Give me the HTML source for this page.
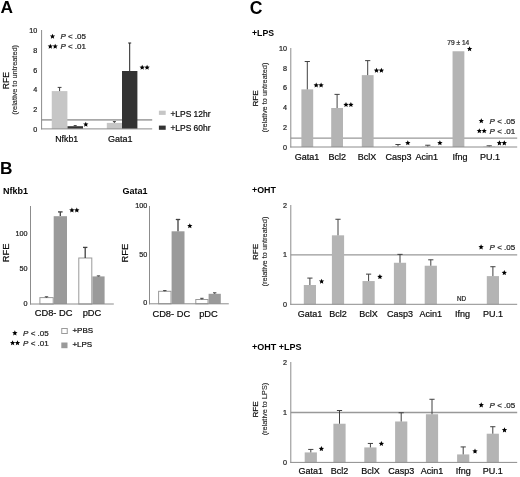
<!DOCTYPE html>
<html><head><meta charset="utf-8"><style>
html,body{margin:0;padding:0;background:#fff;}
body{width:520px;height:477px;overflow:hidden;}
svg{display:block;font-family:"Liberation Sans",sans-serif;filter:grayscale(1);}
text:not([font-weight]){stroke:#222;stroke-width:0.22px;}
text[fill="#1a1a1a"]{stroke-width:0.1px;}
</style></head><body>
<svg width="520" height="477" viewBox="0 0 520 477" shape-rendering="geometricPrecision">
<rect width="520" height="477" fill="#fff"/>
<text x="0.50" y="13.00" font-size="17.3" font-weight="bold" fill="#000">A</text>
<text x="37.20" y="131.68" font-size="7.2" text-anchor="end" fill="#222">0</text>
<text x="37.20" y="111.98" font-size="7.2" text-anchor="end" fill="#222">2</text>
<text x="37.20" y="92.28" font-size="7.2" text-anchor="end" fill="#222">4</text>
<text x="37.20" y="72.58" font-size="7.2" text-anchor="end" fill="#222">6</text>
<text x="37.20" y="52.88" font-size="7.2" text-anchor="end" fill="#222">8</text>
<text x="37.20" y="33.18" font-size="7.2" text-anchor="end" fill="#222">10</text>
<line x1="41.60" y1="119.85" x2="152.20" y2="119.85" stroke="#a8a8a8" stroke-width="1.6"/>
<rect x="51.75" y="91.10" width="15.65" height="37.80" fill="#c6c6c6"/>
<rect x="67.50" y="126.20" width="15.50" height="2.70" fill="#333333"/>
<rect x="106.80" y="122.90" width="15.20" height="6.00" fill="#c6c6c6"/>
<rect x="122.00" y="71.00" width="15.40" height="57.90" fill="#333333"/>
<line x1="59.60" y1="91.10" x2="59.60" y2="87.40" stroke="#404040" stroke-width="1"/>
<line x1="57.70" y1="87.40" x2="61.50" y2="87.40" stroke="#404040" stroke-width="1"/>
<line x1="75.20" y1="126.20" x2="75.20" y2="125.60" stroke="#404040" stroke-width="1"/>
<line x1="73.70" y1="125.60" x2="76.70" y2="125.60" stroke="#404040" stroke-width="1"/>
<line x1="114.40" y1="122.90" x2="114.40" y2="121.60" stroke="#404040" stroke-width="1"/>
<line x1="112.90" y1="121.60" x2="115.90" y2="121.60" stroke="#404040" stroke-width="1"/>
<line x1="129.70" y1="71.00" x2="129.70" y2="43.00" stroke="#222" stroke-width="1"/>
<line x1="128.20" y1="43.00" x2="131.20" y2="43.00" stroke="#222" stroke-width="1"/>
<line x1="41.60" y1="30.00" x2="41.60" y2="129.40" stroke="#8c8c8c" stroke-width="1"/>
<line x1="41.10" y1="128.90" x2="152.20" y2="128.90" stroke="#8c8c8c" stroke-width="1"/>
<polygon points="85.80,121.65 86.56,123.41 88.46,123.58 87.02,124.85 87.45,126.72 85.80,125.74 84.15,126.72 84.58,124.85 83.14,123.58 85.04,123.41" fill="#000"/>
<polygon points="142.20,64.75 142.96,66.51 144.86,66.68 143.42,67.95 143.85,69.82 142.20,68.84 140.55,69.82 140.98,67.95 139.54,66.68 141.44,66.51" fill="#000"/>
<polygon points="147.10,64.75 147.86,66.51 149.76,66.68 148.32,67.95 148.75,69.82 147.10,68.84 145.45,69.82 145.88,67.95 144.44,66.68 146.34,66.51" fill="#000"/>
<polygon points="52.50,33.65 53.26,35.41 55.16,35.58 53.72,36.85 54.15,38.72 52.50,37.74 50.85,38.72 51.28,36.85 49.84,35.58 51.74,35.41" fill="#000"/>
<text x="60.40" y="39.16" font-size="8.0" fill="#222"><tspan font-style="italic">P</tspan> &lt; .05</text>
<polygon points="50.30,43.65 51.06,45.41 52.96,45.58 51.52,46.85 51.95,48.72 50.30,47.74 48.65,48.72 49.08,46.85 47.64,45.58 49.54,45.41" fill="#000"/>
<polygon points="55.20,43.65 55.96,45.41 57.86,45.58 56.42,46.85 56.85,48.72 55.20,47.74 53.55,48.72 53.98,46.85 52.54,45.58 54.44,45.41" fill="#000"/>
<text x="60.40" y="49.16" font-size="8.0" fill="#222"><tspan font-style="italic">P</tspan> &lt; .01</text>
<rect x="158.90" y="110.70" width="6.80" height="4.20" fill="#c6c6c6"/>
<text x="170.40" y="116.53" font-size="8.45">+LPS 12hr</text>
<rect x="158.90" y="125.60" width="6.80" height="4.20" fill="#333333"/>
<text x="170.40" y="131.13" font-size="8.45">+LPS 60hr</text>
<text x="66.70" y="142.15" font-size="8.8" text-anchor="middle">Nfkb1</text>
<text x="120.20" y="142.22" font-size="9.0" text-anchor="middle">Gata1</text>
<text x="9.00" y="80.70" font-size="8.5" text-anchor="middle" transform="rotate(-90 9.00 80.70)">RFE</text>
<text x="17.40" y="79.90" font-size="7.35" text-anchor="middle" fill="#1a1a1a" transform="rotate(-90 17.40 79.90)">(relative to untreated)</text>
<text x="0.10" y="173.80" font-size="17.3" font-weight="bold" fill="#000">B</text>
<text x="3.00" y="193.82" font-size="9.0" font-weight="bold" fill="#000">Nfkb1</text>
<text x="122.60" y="193.82" font-size="9.0" font-weight="bold" fill="#000">Gata1</text>
<text x="27.60" y="305.68" font-size="7.2" text-anchor="end" fill="#222">0</text>
<text x="27.60" y="270.68" font-size="7.2" text-anchor="end" fill="#222">50</text>
<text x="27.60" y="235.68" font-size="7.2" text-anchor="end" fill="#222">100</text>
<rect x="39.90" y="297.60" width="13.30" height="6.40" fill="#fff" stroke="#9a9a9a" stroke-width="1"/>
<rect x="53.70" y="216.20" width="13.30" height="87.80" fill="#9a9a9a"/>
<rect x="78.80" y="258.00" width="13.00" height="46.00" fill="#fff" stroke="#9a9a9a" stroke-width="1"/>
<rect x="92.40" y="276.40" width="12.20" height="27.60" fill="#9a9a9a"/>
<line x1="46.50" y1="297.60" x2="46.50" y2="296.80" stroke="#404040" stroke-width="1"/>
<line x1="44.80" y1="296.80" x2="48.20" y2="296.80" stroke="#404040" stroke-width="1"/>
<line x1="60.30" y1="216.00" x2="60.30" y2="211.90" stroke="#404040" stroke-width="1.3"/>
<line x1="58.00" y1="211.90" x2="62.60" y2="211.90" stroke="#404040" stroke-width="1.3"/>
<line x1="85.20" y1="258.00" x2="85.20" y2="247.40" stroke="#404040" stroke-width="1.3"/>
<line x1="83.00" y1="247.40" x2="87.40" y2="247.40" stroke="#404040" stroke-width="1.3"/>
<line x1="98.50" y1="276.40" x2="98.50" y2="275.90" stroke="#404040" stroke-width="1"/>
<line x1="96.80" y1="275.90" x2="100.20" y2="275.90" stroke="#404040" stroke-width="1"/>
<line x1="30.50" y1="206.00" x2="30.50" y2="304.50" stroke="#8c8c8c" stroke-width="1"/>
<line x1="30.00" y1="304.00" x2="113.80" y2="304.00" stroke="#8c8c8c" stroke-width="1"/>
<polygon points="71.90,207.45 72.66,209.21 74.56,209.38 73.12,210.65 73.55,212.52 71.90,211.54 70.25,212.52 70.68,210.65 69.24,209.38 71.14,209.21" fill="#000"/>
<polygon points="76.80,207.45 77.56,209.21 79.46,209.38 78.02,210.65 78.45,212.52 76.80,211.54 75.15,212.52 75.58,210.65 74.14,209.38 76.04,209.21" fill="#000"/>
<text x="53.60" y="316.33" font-size="9.3" text-anchor="middle">CD8- DC</text>
<text x="92.00" y="316.33" font-size="9.3" text-anchor="middle">pDC</text>
<text x="9.20" y="253.00" font-size="9.4" text-anchor="middle" transform="rotate(-90 9.20 253.00)">RFE</text>
<text x="147.20" y="305.48" font-size="7.2" text-anchor="end" fill="#222">0</text>
<text x="147.20" y="256.73" font-size="7.2" text-anchor="end" fill="#222">50</text>
<text x="147.20" y="207.98" font-size="7.2" text-anchor="end" fill="#222">100</text>
<rect x="158.60" y="291.30" width="12.40" height="12.50" fill="#fff" stroke="#9a9a9a" stroke-width="1"/>
<rect x="171.60" y="231.30" width="12.90" height="72.50" fill="#9a9a9a"/>
<rect x="195.80" y="299.50" width="12.20" height="4.30" fill="#fff" stroke="#9a9a9a" stroke-width="1"/>
<rect x="208.60" y="293.80" width="12.20" height="10.00" fill="#9a9a9a"/>
<line x1="164.80" y1="291.30" x2="164.80" y2="290.60" stroke="#404040" stroke-width="1"/>
<line x1="163.10" y1="290.60" x2="166.50" y2="290.60" stroke="#404040" stroke-width="1"/>
<line x1="178.00" y1="231.30" x2="178.00" y2="219.50" stroke="#404040" stroke-width="1.3"/>
<line x1="175.80" y1="219.50" x2="180.20" y2="219.50" stroke="#404040" stroke-width="1.3"/>
<line x1="201.90" y1="299.50" x2="201.90" y2="298.30" stroke="#404040" stroke-width="1"/>
<line x1="200.20" y1="298.30" x2="203.60" y2="298.30" stroke="#404040" stroke-width="1"/>
<line x1="214.70" y1="293.80" x2="214.70" y2="292.80" stroke="#404040" stroke-width="1"/>
<line x1="213.00" y1="292.80" x2="216.40" y2="292.80" stroke="#404040" stroke-width="1"/>
<line x1="149.50" y1="206.00" x2="149.50" y2="304.30" stroke="#8c8c8c" stroke-width="1"/>
<line x1="149.00" y1="303.80" x2="228.80" y2="303.80" stroke="#8c8c8c" stroke-width="1"/>
<polygon points="189.80,223.15 190.56,224.91 192.46,225.08 191.02,226.35 191.45,228.22 189.80,227.24 188.15,228.22 188.58,226.35 187.14,225.08 189.04,224.91" fill="#000"/>
<text x="171.30" y="316.53" font-size="9.3" text-anchor="middle">CD8- DC</text>
<text x="208.50" y="316.53" font-size="9.3" text-anchor="middle">pDC</text>
<text x="128.50" y="253.20" font-size="9.4" text-anchor="middle" transform="rotate(-90 128.50 253.20)">RFE</text>
<polygon points="14.85,330.35 15.61,332.11 17.51,332.28 16.07,333.55 16.50,335.42 14.85,334.44 13.20,335.42 13.63,333.55 12.19,332.28 14.09,332.11" fill="#000"/>
<text x="23.10" y="335.96" font-size="8.0" fill="#222"><tspan font-style="italic">P</tspan> &lt; .05</text>
<polygon points="12.60,340.15 13.36,341.91 15.26,342.08 13.82,343.35 14.25,345.22 12.60,344.24 10.95,345.22 11.38,343.35 9.94,342.08 11.84,341.91" fill="#000"/>
<polygon points="17.50,340.15 18.26,341.91 20.16,342.08 18.72,343.35 19.15,345.22 17.50,344.24 15.85,345.22 16.28,343.35 14.84,342.08 16.74,341.91" fill="#000"/>
<text x="23.10" y="345.96" font-size="8.0" fill="#222"><tspan font-style="italic">P</tspan> &lt; .01</text>
<rect x="61.75" y="328.50" width="5.50" height="5.00" fill="#fff" stroke="#9a9a9a" stroke-width="1"/>
<text x="72.40" y="333.06" font-size="8.0">+PBS</text>
<rect x="61.30" y="342.50" width="6.20" height="5.70" fill="#9a9a9a"/>
<text x="72.40" y="347.36" font-size="8.0">+LPS</text>
<text x="249.80" y="14.00" font-size="17.6" font-weight="bold" fill="#000">C</text>
<text x="252.00" y="35.61" font-size="8.7" font-weight="bold" fill="#000">+LPS</text>
<text x="252.00" y="193.19" font-size="8.9" font-weight="bold" fill="#000">+OHT</text>
<text x="252.00" y="350.22" font-size="9.0" font-weight="bold" fill="#000">+OHT +LPS</text>
<text x="287.00" y="149.58" font-size="7.2" text-anchor="end" fill="#222">0</text>
<text x="287.00" y="129.84" font-size="7.2" text-anchor="end" fill="#222">2</text>
<text x="287.00" y="110.10" font-size="7.2" text-anchor="end" fill="#222">4</text>
<text x="287.00" y="90.36" font-size="7.2" text-anchor="end" fill="#222">6</text>
<text x="287.00" y="70.62" font-size="7.2" text-anchor="end" fill="#222">8</text>
<text x="287.00" y="50.88" font-size="7.2" text-anchor="end" fill="#222">10</text>
<line x1="290.80" y1="138.10" x2="517.20" y2="138.10" stroke="#999999" stroke-width="1.3"/>
<rect x="301.40" y="89.36" width="11.80" height="57.64" fill="#b4b4b4"/>
<line x1="307.30" y1="89.36" x2="307.30" y2="61.53" stroke="#404040" stroke-width="1"/>
<line x1="304.70" y1="61.53" x2="309.90" y2="61.53" stroke="#404040" stroke-width="1"/>
<rect x="331.20" y="108.01" width="11.80" height="38.99" fill="#b4b4b4"/>
<line x1="337.10" y1="108.01" x2="337.10" y2="94.39" stroke="#404040" stroke-width="1"/>
<line x1="334.50" y1="94.39" x2="339.70" y2="94.39" stroke="#404040" stroke-width="1"/>
<rect x="361.80" y="75.15" width="11.80" height="71.85" fill="#b4b4b4"/>
<line x1="367.70" y1="75.15" x2="367.70" y2="60.64" stroke="#404040" stroke-width="1"/>
<line x1="365.10" y1="60.64" x2="370.30" y2="60.64" stroke="#404040" stroke-width="1"/>
<rect x="392.10" y="146.51" width="11.80" height="0.49" fill="#b4b4b4"/>
<line x1="398.00" y1="146.51" x2="398.00" y2="144.53" stroke="#404040" stroke-width="1"/>
<line x1="395.40" y1="144.53" x2="400.60" y2="144.53" stroke="#404040" stroke-width="1"/>
<rect x="421.90" y="146.70" width="11.80" height="0.30" fill="#b4b4b4"/>
<line x1="427.80" y1="146.70" x2="427.80" y2="145.22" stroke="#404040" stroke-width="1"/>
<line x1="425.20" y1="145.22" x2="430.40" y2="145.22" stroke="#404040" stroke-width="1"/>
<rect x="452.55" y="51.26" width="11.80" height="95.74" fill="#b4b4b4"/>
<rect x="483.30" y="146.61" width="11.80" height="0.39" fill="#b4b4b4"/>
<line x1="489.20" y1="146.61" x2="489.20" y2="145.82" stroke="#404040" stroke-width="1"/>
<line x1="486.60" y1="145.82" x2="491.80" y2="145.82" stroke="#404040" stroke-width="1"/>
<line x1="290.80" y1="48.00" x2="290.80" y2="147.50" stroke="#8c8c8c" stroke-width="1"/>
<line x1="290.30" y1="147.00" x2="517.20" y2="147.00" stroke="#8c8c8c" stroke-width="1"/>
<polygon points="316.20,82.45 316.96,84.21 318.86,84.38 317.42,85.65 317.85,87.52 316.20,86.54 314.55,87.52 314.98,85.65 313.54,84.38 315.44,84.21" fill="#000"/>
<polygon points="321.10,82.45 321.86,84.21 323.76,84.38 322.32,85.65 322.75,87.52 321.10,86.54 319.45,87.52 319.88,85.65 318.44,84.38 320.34,84.21" fill="#000"/>
<polygon points="346.00,101.95 346.76,103.71 348.66,103.88 347.22,105.15 347.65,107.02 346.00,106.04 344.35,107.02 344.78,105.15 343.34,103.88 345.24,103.71" fill="#000"/>
<polygon points="350.90,101.95 351.66,103.71 353.56,103.88 352.12,105.15 352.55,107.02 350.90,106.04 349.25,107.02 349.68,105.15 348.24,103.88 350.14,103.71" fill="#000"/>
<polygon points="376.50,67.75 377.26,69.51 379.16,69.68 377.72,70.95 378.15,72.82 376.50,71.84 374.85,72.82 375.28,70.95 373.84,69.68 375.74,69.51" fill="#000"/>
<polygon points="381.40,67.75 382.16,69.51 384.06,69.68 382.62,70.95 383.05,72.82 381.40,71.84 379.75,72.82 380.18,70.95 378.74,69.68 380.64,69.51" fill="#000"/>
<polygon points="407.80,140.25 408.56,142.01 410.46,142.18 409.02,143.45 409.45,145.32 407.80,144.34 406.15,145.32 406.58,143.45 405.14,142.18 407.04,142.01" fill="#000"/>
<polygon points="439.90,140.25 440.66,142.01 442.56,142.18 441.12,143.45 441.55,145.32 439.90,144.34 438.25,145.32 438.68,143.45 437.24,142.18 439.14,142.01" fill="#000"/>
<polygon points="469.60,46.15 470.36,47.91 472.26,48.08 470.82,49.35 471.25,51.22 469.60,50.24 467.95,51.22 468.38,49.35 466.94,48.08 468.84,47.91" fill="#000"/>
<polygon points="499.40,140.35 500.16,142.11 502.06,142.28 500.62,143.55 501.05,145.42 499.40,144.44 497.75,145.42 498.18,143.55 496.74,142.28 498.64,142.11" fill="#000"/>
<polygon points="504.30,140.35 505.06,142.11 506.96,142.28 505.52,143.55 505.95,145.42 504.30,144.44 502.65,145.42 503.08,143.55 501.64,142.28 503.54,142.11" fill="#000"/>
<text x="306.90" y="160.02" font-size="9.0" text-anchor="middle">Gata1</text>
<text x="337.20" y="160.02" font-size="9.0" text-anchor="middle">Bcl2</text>
<text x="366.90" y="160.02" font-size="9.0" text-anchor="middle">BclX</text>
<text x="398.50" y="160.02" font-size="9.0" text-anchor="middle">Casp3</text>
<text x="426.80" y="160.02" font-size="9.0" text-anchor="middle">Acin1</text>
<text x="459.90" y="160.02" font-size="9.0" text-anchor="middle">Ifng</text>
<text x="490.10" y="160.02" font-size="9.0" text-anchor="middle">PU.1</text>
<text x="258.10" y="98.50" font-size="8.1" text-anchor="middle" transform="rotate(-90 258.10 98.50)">RFE</text>
<text x="267.20" y="97.50" font-size="7.35" text-anchor="middle" fill="#1a1a1a" transform="rotate(-90 267.20 97.50)">(relative to untreated)</text>
<text x="458.30" y="44.86" font-size="6.6" text-anchor="middle" fill="#333">79 ± 14</text>
<polygon points="481.30,118.15 482.06,119.91 483.96,120.08 482.52,121.35 482.95,123.22 481.30,122.24 479.65,123.22 480.08,121.35 478.64,120.08 480.54,119.91" fill="#000"/>
<text x="489.60" y="123.66" font-size="8.0" fill="#222"><tspan font-style="italic">P</tspan> &lt; .05</text>
<polygon points="479.30,128.15 480.06,129.91 481.96,130.08 480.52,131.35 480.95,133.22 479.30,132.24 477.65,133.22 478.08,131.35 476.64,130.08 478.54,129.91" fill="#000"/>
<polygon points="484.20,128.15 484.96,129.91 486.86,130.08 485.42,131.35 485.85,133.22 484.20,132.24 482.55,133.22 482.98,131.35 481.54,130.08 483.44,129.91" fill="#000"/>
<text x="489.60" y="133.66" font-size="8.0" fill="#222"><tspan font-style="italic">P</tspan> &lt; .01</text>
<text x="287.00" y="306.88" font-size="7.2" text-anchor="end" fill="#222">0</text>
<text x="287.00" y="257.43" font-size="7.2" text-anchor="end" fill="#222">1</text>
<text x="287.00" y="207.98" font-size="7.2" text-anchor="end" fill="#222">2</text>
<line x1="290.80" y1="254.85" x2="517.20" y2="254.85" stroke="#999999" stroke-width="1.3"/>
<rect x="303.80" y="285.01" width="12.20" height="19.29" fill="#b4b4b4"/>
<line x1="309.90" y1="285.01" x2="309.90" y2="278.09" stroke="#404040" stroke-width="1"/>
<line x1="307.30" y1="278.09" x2="312.50" y2="278.09" stroke="#404040" stroke-width="1"/>
<rect x="331.90" y="235.32" width="12.20" height="68.98" fill="#b4b4b4"/>
<line x1="338.00" y1="235.32" x2="338.00" y2="219.25" stroke="#404040" stroke-width="1"/>
<line x1="335.40" y1="219.25" x2="340.60" y2="219.25" stroke="#404040" stroke-width="1"/>
<rect x="362.50" y="281.06" width="12.20" height="23.24" fill="#b4b4b4"/>
<line x1="368.60" y1="281.06" x2="368.60" y2="274.14" stroke="#404040" stroke-width="1"/>
<line x1="366.00" y1="274.14" x2="371.20" y2="274.14" stroke="#404040" stroke-width="1"/>
<rect x="393.90" y="262.76" width="12.20" height="41.54" fill="#b4b4b4"/>
<line x1="400.00" y1="262.76" x2="400.00" y2="254.36" stroke="#404040" stroke-width="1"/>
<line x1="397.40" y1="254.36" x2="402.60" y2="254.36" stroke="#404040" stroke-width="1"/>
<rect x="424.70" y="265.73" width="12.20" height="38.57" fill="#b4b4b4"/>
<line x1="430.80" y1="265.73" x2="430.80" y2="259.80" stroke="#404040" stroke-width="1"/>
<line x1="428.20" y1="259.80" x2="433.40" y2="259.80" stroke="#404040" stroke-width="1"/>
<rect x="486.80" y="276.11" width="12.20" height="28.19" fill="#b4b4b4"/>
<line x1="492.90" y1="276.11" x2="492.90" y2="266.72" stroke="#404040" stroke-width="1"/>
<line x1="490.30" y1="266.72" x2="495.50" y2="266.72" stroke="#404040" stroke-width="1"/>
<line x1="290.80" y1="205.00" x2="290.80" y2="304.80" stroke="#8c8c8c" stroke-width="1"/>
<line x1="290.30" y1="304.30" x2="517.20" y2="304.30" stroke="#8c8c8c" stroke-width="1"/>
<polygon points="321.60,278.65 322.36,280.41 324.26,280.58 322.82,281.85 323.25,283.72 321.60,282.74 319.95,283.72 320.38,281.85 318.94,280.58 320.84,280.41" fill="#000"/>
<polygon points="379.90,274.05 380.66,275.81 382.56,275.98 381.12,277.25 381.55,279.12 379.90,278.14 378.25,279.12 378.68,277.25 377.24,275.98 379.14,275.81" fill="#000"/>
<polygon points="504.30,270.05 505.06,271.81 506.96,271.98 505.52,273.25 505.95,275.12 504.30,274.14 502.65,275.12 503.08,273.25 501.64,271.98 503.54,271.81" fill="#000"/>
<text x="309.90" y="316.72" font-size="9.0" text-anchor="middle">Gata1</text>
<text x="338.00" y="316.72" font-size="9.0" text-anchor="middle">Bcl2</text>
<text x="368.60" y="316.72" font-size="9.0" text-anchor="middle">BclX</text>
<text x="400.00" y="316.72" font-size="9.0" text-anchor="middle">Casp3</text>
<text x="430.80" y="316.72" font-size="9.0" text-anchor="middle">Acin1</text>
<text x="462.60" y="316.72" font-size="9.0" text-anchor="middle">Ifng</text>
<text x="492.90" y="316.72" font-size="9.0" text-anchor="middle">PU.1</text>
<text x="258.10" y="252.00" font-size="8.1" text-anchor="middle" transform="rotate(-90 258.10 252.00)">RFE</text>
<text x="267.20" y="251.50" font-size="7.35" text-anchor="middle" fill="#1a1a1a" transform="rotate(-90 267.20 251.50)">(relative to untreated)</text>
<text x="461.60" y="301.46" font-size="6.3" text-anchor="middle" fill="#222">ND</text>
<polygon points="481.10,244.35 481.86,246.11 483.76,246.28 482.32,247.55 482.75,249.42 481.10,248.44 479.45,249.42 479.88,247.55 478.44,246.28 480.34,246.11" fill="#000"/>
<text x="489.60" y="250.16" font-size="8.0" fill="#222"><tspan font-style="italic">P</tspan> &lt; .05</text>
<text x="287.00" y="464.98" font-size="7.2" text-anchor="end" fill="#222">0</text>
<text x="287.00" y="415.08" font-size="7.2" text-anchor="end" fill="#222">1</text>
<text x="287.00" y="365.18" font-size="7.2" text-anchor="end" fill="#222">2</text>
<line x1="290.80" y1="412.50" x2="517.20" y2="412.50" stroke="#999999" stroke-width="1.3"/>
<rect x="304.70" y="452.42" width="12.20" height="9.98" fill="#b4b4b4"/>
<line x1="310.80" y1="452.42" x2="310.80" y2="449.43" stroke="#404040" stroke-width="1"/>
<line x1="308.20" y1="449.43" x2="313.40" y2="449.43" stroke="#404040" stroke-width="1"/>
<rect x="333.40" y="423.73" width="12.20" height="38.67" fill="#b4b4b4"/>
<line x1="339.50" y1="423.73" x2="339.50" y2="410.50" stroke="#404040" stroke-width="1"/>
<line x1="336.90" y1="410.50" x2="342.10" y2="410.50" stroke="#404040" stroke-width="1"/>
<rect x="364.30" y="447.43" width="12.20" height="14.97" fill="#b4b4b4"/>
<line x1="370.40" y1="447.43" x2="370.40" y2="443.44" stroke="#404040" stroke-width="1"/>
<line x1="367.80" y1="443.44" x2="373.00" y2="443.44" stroke="#404040" stroke-width="1"/>
<rect x="395.10" y="421.48" width="12.20" height="40.92" fill="#b4b4b4"/>
<line x1="401.20" y1="421.48" x2="401.20" y2="412.75" stroke="#404040" stroke-width="1"/>
<line x1="398.60" y1="412.75" x2="403.80" y2="412.75" stroke="#404040" stroke-width="1"/>
<rect x="425.90" y="414.25" width="12.20" height="48.15" fill="#b4b4b4"/>
<line x1="432.00" y1="414.25" x2="432.00" y2="399.28" stroke="#404040" stroke-width="1"/>
<line x1="429.40" y1="399.28" x2="434.60" y2="399.28" stroke="#404040" stroke-width="1"/>
<rect x="457.10" y="454.42" width="12.20" height="7.98" fill="#b4b4b4"/>
<line x1="463.20" y1="454.42" x2="463.20" y2="446.93" stroke="#404040" stroke-width="1"/>
<line x1="460.60" y1="446.93" x2="465.80" y2="446.93" stroke="#404040" stroke-width="1"/>
<rect x="486.70" y="433.71" width="12.20" height="28.69" fill="#b4b4b4"/>
<line x1="492.80" y1="433.71" x2="492.80" y2="426.72" stroke="#404040" stroke-width="1"/>
<line x1="490.20" y1="426.72" x2="495.40" y2="426.72" stroke="#404040" stroke-width="1"/>
<line x1="290.80" y1="362.00" x2="290.80" y2="462.90" stroke="#8c8c8c" stroke-width="1"/>
<line x1="290.30" y1="462.40" x2="517.20" y2="462.40" stroke="#8c8c8c" stroke-width="1"/>
<polygon points="321.40,446.05 322.16,447.81 324.06,447.98 322.62,449.25 323.05,451.12 321.40,450.14 319.75,451.12 320.18,449.25 318.74,447.98 320.64,447.81" fill="#000"/>
<polygon points="381.40,440.95 382.16,442.71 384.06,442.88 382.62,444.15 383.05,446.02 381.40,445.04 379.75,446.02 380.18,444.15 378.74,442.88 380.64,442.71" fill="#000"/>
<polygon points="475.00,448.55 475.76,450.31 477.66,450.48 476.22,451.75 476.65,453.62 475.00,452.64 473.35,453.62 473.78,451.75 472.34,450.48 474.24,450.31" fill="#000"/>
<polygon points="504.50,427.35 505.26,429.11 507.16,429.28 505.72,430.55 506.15,432.42 504.50,431.44 502.85,432.42 503.28,430.55 501.84,429.28 503.74,429.11" fill="#000"/>
<text x="310.80" y="473.62" font-size="9.0" text-anchor="middle">Gata1</text>
<text x="339.50" y="473.62" font-size="9.0" text-anchor="middle">Bcl2</text>
<text x="370.40" y="473.62" font-size="9.0" text-anchor="middle">BclX</text>
<text x="401.20" y="473.62" font-size="9.0" text-anchor="middle">Casp3</text>
<text x="432.00" y="473.62" font-size="9.0" text-anchor="middle">Acin1</text>
<text x="463.20" y="473.62" font-size="9.0" text-anchor="middle">Ifng</text>
<text x="492.80" y="473.62" font-size="9.0" text-anchor="middle">PU.1</text>
<text x="258.10" y="409.40" font-size="8.1" text-anchor="middle" transform="rotate(-90 258.10 409.40)">RFE</text>
<text x="267.20" y="409.00" font-size="7.35" text-anchor="middle" fill="#1a1a1a" transform="rotate(-90 267.20 409.00)">(relative to LPS)</text>
<polygon points="481.25,402.35 482.01,404.11 483.91,404.28 482.47,405.55 482.90,407.42 481.25,406.44 479.60,407.42 480.03,405.55 478.59,404.28 480.49,404.11" fill="#000"/>
<text x="489.60" y="407.86" font-size="8.0" fill="#222"><tspan font-style="italic">P</tspan> &lt; .05</text>
</svg>
</body></html>
